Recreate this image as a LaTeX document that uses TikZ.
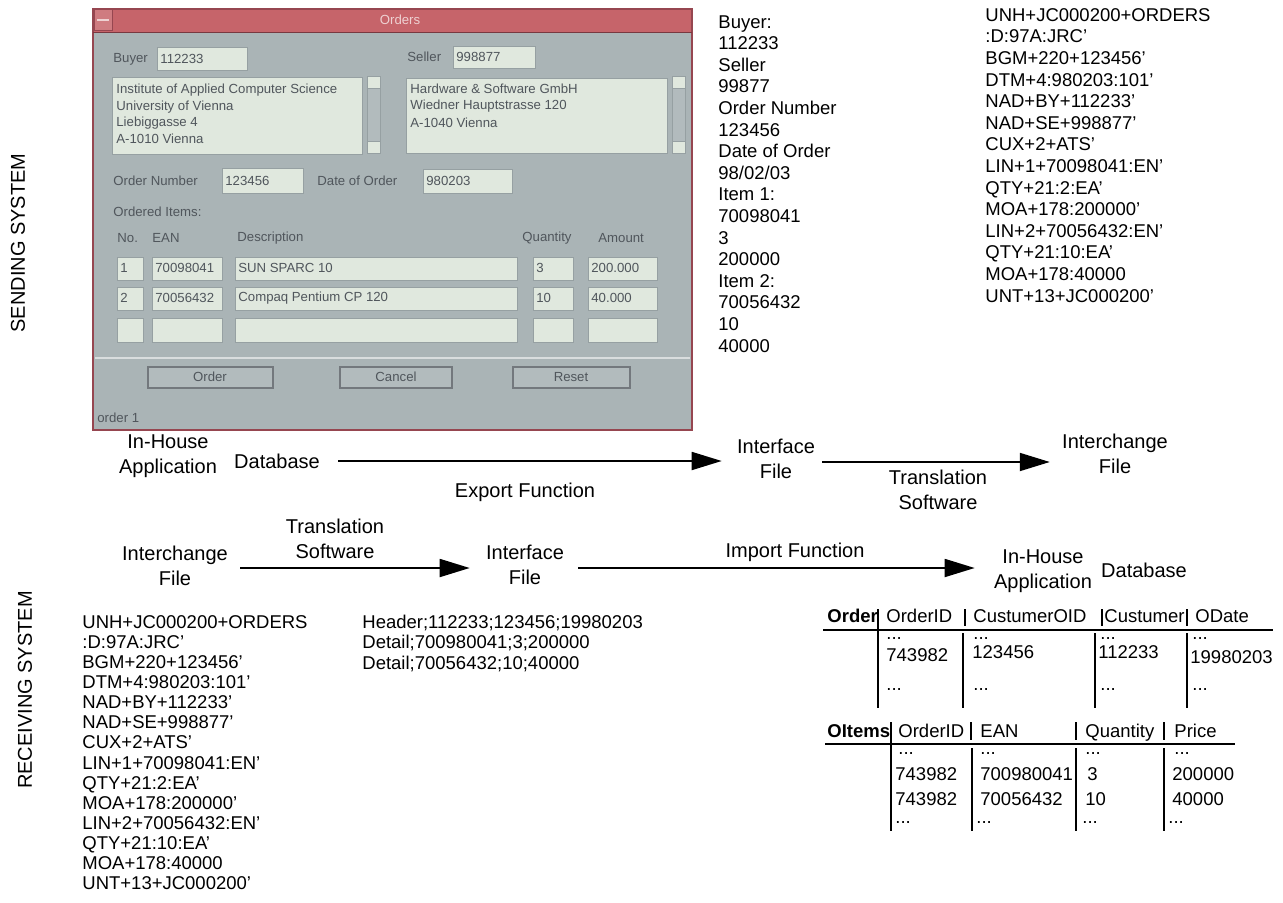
\documentclass[tikz,border=0pt]{standalone}
\usepackage{fontspec}
\setmainfont{Liberation Sans}
\usetikzlibrary{arrows.meta}
\definecolor{guibg}{RGB}{170,180,182}
\definecolor{guifield}{RGB}{224,232,222}
\definecolor{guititle}{RGB}{198,100,106}
\definecolor{guiborder}{RGB}{150,70,80}
\definecolor{guitext}{RGB}{80,86,92}
\definecolor{guiline}{RGB}{150,160,162}
\begin{document}
\begin{tikzpicture}[x=0.5pt,y=-0.5pt,
  flow/.style={font=\fontsize{10}{12.2}\selectfont, align=center, inner sep=0pt},
  lst/.style={font=\fontsize{9.25}{10.8}\selectfont, align=left, anchor=north west, inner sep=0pt},
  lstr/.style={font=\fontsize{9.25}{10.05}\selectfont, align=left, anchor=north west, inner sep=0pt},
  cell/.style={font=\fontsize{9.25}{11}\selectfont, anchor=base west, inner sep=0pt},
  tline/.style={line width=0.6pt},
  arr/.style={line width=0.9pt, -{Triangle[length=15pt,width=9pt]}},
  gtxt/.style={font=\fontsize{6.6}{8}\selectfont, text=guitext, inner sep=0pt, anchor=west},
  gfield/.style={fill=guifield, draw=guiline, line width=0.3pt},
  gbutton/.style={fill=guibg!90!white, draw=guitext!80, line width=0.6pt},
]
\useasboundingbox (0,0) rectangle (1283,903);

% ---------- side labels
\node[flow, rotate=90] (snd) at (18,243) {SENDING SYSTEM};
\node[flow, rotate=90] (rcv) at (25,690) {RECEIVING SYSTEM};

% ---------- GUI window
\fill[guibg] (93,9) rectangle (692,430);
\fill[guititle] (93,9) rectangle (692,32);
\draw[guiborder, line width=1.2pt] (93,9) rectangle (692,430);
\draw[guiborder!80!black, line width=0.4pt] (93,32) -- (692,32);
\draw[guiborder, line width=0.5pt, fill=guititle!85!white] (94,10) rectangle (112,31);
\draw[white!70!guititle, line width=0.8pt] (97,20) -- (109,20);
\node[font=\fontsize{6.6}{8}\selectfont, text=white!70!guititle, inner sep=0pt] (gtitle) at (400,20) {Orders};

\node[gtxt] (gbuy) at (113,59) {Buyer};
\draw[gfield] (157,47) rectangle (247,70);
\node[gtxt] (gbuyv) at (160,59) {112233};
\node[gtxt] (gsel) at (407,57) {Seller};
\draw[gfield] (453,46) rectangle (535,68);
\node[gtxt] (gselv) at (456,57) {998877};

\draw[gfield] (112,77) rectangle (362,154);
\node[gtxt] (ga1) at (116,90) {Institute of Applied Computer Science};
\node[gtxt] (ga2) at (116,107) {University of Vienna};
\node[gtxt] (ga3) at (116,123) {Liebiggasse 4};
\node[gtxt] (ga4) at (116,139) {A-1010 Vienna};
\draw[guiline, fill=guibg!90!white, line width=0.3pt] (367,76) rectangle (380,153);
\draw[guiline, fill=guifield, line width=0.3pt] (367,76) rectangle (380,88);
\draw[guiline, fill=guifield, line width=0.3pt] (367,141) rectangle (380,153);

\draw[gfield] (406,78) rectangle (667,153);
\node[gtxt] (gb1) at (410,89) {Hardware \& Software GmbH};
\node[gtxt] (gb2) at (410,106) {Wiedner Hauptstrasse 120};
\node[gtxt] (gb3) at (410,123) {A-1040 Vienna};
\draw[guiline, fill=guibg!90!white, line width=0.3pt] (672,76) rectangle (685,153);
\draw[guiline, fill=guifield, line width=0.3pt] (672,76) rectangle (685,88);
\draw[guiline, fill=guifield, line width=0.3pt] (672,141) rectangle (685,153);

\node[gtxt] (gon) at (113,181) {Order Number};
\draw[gfield] (222,168) rectangle (303,193);
\node[gtxt] (gonv) at (225,181) {123456};
\node[gtxt] (gdo) at (317,181) {Date of Order};
\draw[gfield] (423,169) rectangle (512,193);
\node[gtxt] (gdov) at (426,181) {980203};

\node[gtxt] (goi) at (113,212) {Ordered Items:};
\node[gtxt] (gh1) at (117,238) {No.};
\node[gtxt] (gh2) at (152,238) {EAN};
\node[gtxt] (gh3) at (237,238) {Description};
\node[gtxt] (gh4) at (522,238) {Quantity};
\node[gtxt] (gh5) at (598,238) {Amount};

\foreach \ya/\yb in {257/280, 287/310, 318/342} {
  \draw[gfield] (117,\ya) rectangle (143,\yb);
  \draw[gfield] (152,\ya) rectangle (222,\yb);
  \draw[gfield] (235,\ya) rectangle (517,\yb);
  \draw[gfield] (533,\ya) rectangle (573,\yb);
  \draw[gfield] (588,\ya) rectangle (657,\yb);
}
\node[gtxt] (gr11) at (120,268) {1};
\node[gtxt] (gr12) at (155,268) {70098041};
\node[gtxt] (gr13) at (238,268) {SUN SPARC 10};
\node[gtxt] (gr14) at (536,268) {3};
\node[gtxt] (gr15) at (591,268) {200.000};
\node[gtxt] (gr21) at (120,298) {2};
\node[gtxt] (gr22) at (155,298) {70056432};
\node[gtxt] (gr23) at (238,298) {Compaq Pentium CP 120};
\node[gtxt] (gr24) at (536,298) {10};
\node[gtxt] (gr25) at (591,298) {40.000};
\draw[white!55!guibg, line width=1pt] (95,358) -- (690,358);

\draw[gbutton] (148,367) rectangle (273,388);
\node[gtxt, anchor=center] (gbo) at (210,377) {Order};
\draw[gbutton] (340,367) rectangle (452,388);
\node[gtxt, anchor=center] (gbc) at (396,377) {Cancel};
\draw[gbutton] (513,367) rectangle (630,388);
\node[gtxt, anchor=center] (gbr) at (571,377) {Reset};
\node[gtxt] (gst) at (97,418) {order 1};

% ---------- sending listings
\node[lst] (buy) at (718,15) {Buyer:\\112233\\Seller\\99877\\Order Number\\123456\\Date of Order\\98/02/03\\Item 1:\\70098041\\3\\200000\\Item 2:\\70056432\\10\\40000};
\node[lst] (edi1) at (985,8) {UNH+JC000200+ORDERS\\:D:97A:JRC'\\BGM+220+123456'\\DTM+4:980203:101'\\NAD+BY+112233'\\NAD+SE+998877'\\CUX+2+ATS'\\LIN+1+70098041:EN'\\QTY+21:2:EA'\\MOA+178:200000'\\LIN+2+70056432:EN'\\QTY+21:10:EA'\\MOA+178:40000\\UNT+13+JC000200'};

% ---------- sending flow
\node[flow] (ih1) at (168,456) {In-House\\Application};
\node[flow] (db1) at (277,461) {Database};
\node[flow] (if1) at (776,459) {Interface\\File};
\node[flow] (ic1) at (1115,454) {Interchange\\File};
\node[flow] (ts1) at (938,490) {Translation\\Software};
\node[flow] (ef) at (525,492) {Export Function};
\draw[arr] ([xshift=9pt]db1.east) -- ([xshift=-7.5pt]db1.east -| if1.west);
\draw[arr] ([xshift=3.5pt,yshift=-1.5pt]if1.east) -- ([xshift=-6pt,yshift=-1.5pt]if1.east -| ic1.west);

% ---------- receiving flow
\node[flow] (ic2) at (175,566) {Interchange\\File};
\node[flow] (ts2) at (335,539) {Translation\\Software};
\node[flow] (if2) at (525,565) {Interface\\File};
\node[flow] (imp) at (795,552) {Import Function};
\node[flow] (ih2) at (1043,571) {In-House\\Application};
\node[flow] (db2) at (1144,570) {Database};
\draw[arr] ([xshift=6pt,yshift=-1pt]ic2.east) -- ([xshift=-8pt,yshift=-1pt]ic2.east -| if2.west);
\draw[arr] ([xshift=7pt,yshift=-1.5pt]if2.east) -- ([xshift=-9.5pt,yshift=-1.5pt]if2.east -| ih2.west);

% ---------- receiving listings
\node[lstr] (edi2) at (82,615) {UNH+JC000200+ORDERS\\:D:97A:JRC'\\BGM+220+123456'\\DTM+4:980203:101'\\NAD+BY+112233'\\NAD+SE+998877'\\CUX+2+ATS'\\LIN+1+70098041:EN'\\QTY+21:2:EA'\\MOA+178:200000'\\LIN+2+70056432:EN'\\QTY+21:10:EA'\\MOA+178:40000\\UNT+13+JC000200'};
\node[lstr] (hdr) at (362,615) {Header;112233;123456;19980203\\Detail;700980041;3;200000\\Detail;70056432;10;40000};

% ---------- Order table
\node[cell] (oT) at (827,622) {\bfseries Order};
\node[cell] (oH1) at (886,622) {OrderID};
\node[cell] (oH2) at (973,622) {CustumerOID};
\node[cell] (oH3) at (1104,622) {Custumer};
\node[cell] (oH4) at (1195,622) {ODate};
\draw[tline] (823,630) -- (1273,630);
\draw[tline] (878,609) -- (878,708);
\draw[tline] (965,609) -- (965,626);
\draw[tline] (1102,609) -- (1102,626);
\draw[tline] (1187,609) -- (1187,626);
\draw[tline] (963,633) -- (963,708);
\draw[tline] (1095,633) -- (1095,708);
\draw[tline] (1187,633) -- (1187,708);
\node[cell] (o11) at (886,639) {...};
\node[cell] (o12) at (973,639) {...};
\node[cell] (o13) at (1100,639) {...};
\node[cell] (o14) at (1192,639) {...};
\node[cell] (o21) at (886,661) {743982};
\node[cell] (o22) at (972,658) {123456};
\node[cell] (o23) at (1098,658) {112233};
\node[cell] (o24) at (1190,663) {19980203};
\node[cell] (o31) at (886,690) {...};
\node[cell] (o32) at (973,690) {...};
\node[cell] (o33) at (1100,690) {...};
\node[cell] (o34) at (1192,690) {...};

% ---------- OItems table
\node[cell] (iT) at (827,737) {\bfseries OItems};
\node[cell] (iH1) at (898,737) {OrderID};
\node[cell] (iH2) at (980,737) {EAN};
\node[cell] (iH3) at (1085,737) {Quantity};
\node[cell] (iH4) at (1174,737) {Price};
\draw[tline] (825,744) -- (1235,744);
\draw[tline] (891,722) -- (891,831);
\draw[tline] (971,722) -- (971,740);
\draw[tline] (1076,722) -- (1076,740);
\draw[tline] (1164,722) -- (1164,740);
\draw[tline] (972,748) -- (972,831);
\draw[tline] (1076,748) -- (1076,831);
\draw[tline] (1164,748) -- (1164,831);
\node[cell] (i11) at (898,754) {...};
\node[cell] (i12) at (980,754) {...};
\node[cell] (i13) at (1085,754) {...};
\node[cell] (i14) at (1174,754) {...};
\node[cell] (i21) at (895,780) {743982};
\node[cell] (i22) at (980,780) {700980041};
\node[cell] (i23) at (1087,780) {3};
\node[cell] (i24) at (1172,780) {200000};
\node[cell] (i31) at (895,805) {743982};
\node[cell] (i32) at (980,805) {70056432};
\node[cell] (i33) at (1085,805) {10};
\node[cell] (i34) at (1172,805) {40000};
\node[cell] (i41) at (895,823) {...};
\node[cell] (i42) at (976,823) {...};
\node[cell] (i43) at (1082,823) {...};
\node[cell] (i44) at (1168,823) {...};
\end{tikzpicture}
\end{document}
